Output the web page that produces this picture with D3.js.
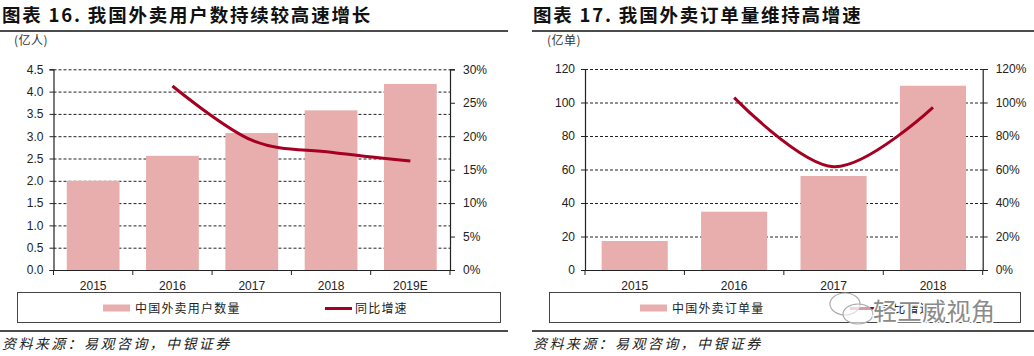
<!DOCTYPE html>
<html><head><meta charset="utf-8">
<script src="https://cdn.jsdelivr.net/npm/d3@7"></script>
<style>
body{margin:0;background:#fff;}
svg{display:block;}
text{font-family:"Liberation Sans",Arial,sans-serif;}
.cjk{font-family:"Noto Sans CJK SC","Noto Sans",sans-serif;}
</style></head><body>
<svg id="c" width="1034" height="356"></svg>
<script>
// ---- data ----
const years1 = ["2015","2016","2017","2018","2019E"];
const users = [2.0, 2.56, 3.07, 3.58, 4.17];          // 亿人
const userGrowth = [null, 27.5, 19.4, 17.6, 16.3];    // %
const leftTicks1 = [0,0.5,1,1.5,2,2.5,3,3.5,4,4.5];
const rightTicks1 = [0,5,10,15,20,25,30];

const years2 = ["2015","2016","2017","2018"];
const orders = [17.3, 34.8, 56.1, 110];               // 亿单
const orderGrowth = [null, 102.9, 61.7, 97.1];        // %
const leftTicks2 = [0,20,40,60,80,100,120];
const rightTicks2 = [0,20,40,60,80,100,120];

const BAR = "#E8ADAD", LINE = "#A50021", INK = "#222";
const svg = d3.select("#c");

function panel(o){
  const g = svg.append("g");
  // title
  g.append("text").attr("class","cjk").attr("x",o.tx).attr("y",22)
    .attr("font-size",18.5).attr("font-weight","bold").attr("letter-spacing",1.8).attr("fill","#111")
    .text(o.title);
  g.append("line").attr("x1",o.lx0).attr("x2",o.lx1).attr("y1",31).attr("y2",31).attr("stroke","#111").attr("stroke-width",1.5);
  g.append("line").attr("x1",o.lx0).attr("x2",o.lx1).attr("y1",331).attr("y2",331).attr("stroke","#111").attr("stroke-width",1.5);
  g.append("text").attr("class","cjk").attr("x",o.tx).attr("y",349).attr("font-size",14)
    .attr("font-style","italic").attr("letter-spacing",2.4).attr("fill","#222").text("资料来源：易观咨询，中银证券");
  // unit
  g.append("text").attr("class","cjk").attr("x",o.ux).attr("y",45).attr("font-size",12).attr("letter-spacing",0.5).attr("fill","#333").text(o.unit);

  const x = d3.scaleBand().domain(o.cats).range([o.x0,o.x1]).paddingInner(0.335).paddingOuter(0.1675);
  const y = d3.scaleLinear().domain([0,o.ymax]).range([270,o.yTop]);
  const y2 = d3.scaleLinear().domain([0,o.y2max]).range([270,o.yTop]);

  // gridlines
  g.append("g").selectAll("line").data(o.lt.filter(d=>d>0)).join("line")
    .attr("x1",o.x0).attr("x2",o.x1).attr("y1",d=>y(d)+0.5).attr("y2",d=>y(d)+0.5)
    .attr("stroke","#222").attr("stroke-width",1).attr("stroke-dasharray","3,2");
  // bars
  g.append("g").selectAll("rect").data(o.bars).join("rect")
    .attr("x",(d,i)=>x(o.cats[i])).attr("width",x.bandwidth())
    .attr("y",d=>y(d)).attr("height",d=>270-y(d)).attr("fill",BAR);
  // axes
  const ax = g.append("g").attr("transform",`translate(${o.x0},0)`)
    .call(d3.axisLeft(y).tickValues(o.lt).tickSize(4).tickPadding(6).tickFormat(o.lfmt));
  const ax2 = g.append("g").attr("transform",`translate(${o.x1},0)`)
    .call(d3.axisRight(y2).tickValues(o.rt).tickSize(5).tickPadding(8).tickFormat(d=>d+"%"));
  const axb = g.append("g").attr("transform",`translate(0,270)`)
    .call(d3.axisBottom(x).tickSize(0).tickPadding(11));
  // bottom ticks at boundaries
  const bounds = o.cats.map((c,i)=>o.x0 + i*x.step()).concat([o.x1]);
  g.append("g").selectAll("line").data(bounds).join("line")
    .attr("x1",d=>d).attr("x2",d=>d).attr("y1",270).attr("y2",275).attr("stroke","#222");
  [ax,ax2,axb].forEach(a=>{
    a.select(".domain").attr("stroke","#222").attr("stroke-width",1.2);
    a.selectAll(".tick line").attr("stroke","#222");
    a.selectAll("text").attr("font-size",12).attr("fill",INK).attr("font-family","Liberation Sans, Arial, sans-serif");
  });
  axb.select(".domain").attr("d",`M${o.x0},0.5H${o.x1}`);
  // line
  const pts = o.growth.map((v,i)=>[v,i]).filter(d=>d[0]!=null);
  g.append("path").datum(pts)
    .attr("d",d3.line().x(d=>x(o.cats[d[1]])+x.bandwidth()/2).y(d=>y2(d[0])).curve(d3.curveCatmullRom.alpha(0)))
    .attr("fill","none").attr("stroke",LINE).attr("stroke-width",3).attr("stroke-linecap","butt");

  // legend
  g.append("rect").attr("x",o.bx0+0.5).attr("y",292.5).attr("width",o.bx1-o.bx0).attr("height",30)
    .attr("fill","none").attr("stroke","#444").attr("stroke-width",1);
  g.append("rect").attr("x",o.s1).attr("y",304.5).attr("width",27).attr("height",7).attr("fill",BAR);
  g.append("text").attr("class","cjk").attr("x",o.s1+32).attr("y",313).attr("font-size",12).attr("letter-spacing",1.2).attr("fill","#222").text(o.leg1);
  g.append("line").attr("x1",o.s2).attr("x2",o.s2+27).attr("y1",308.5).attr("y2",308.5).attr("stroke",LINE).attr("stroke-width",3);
  g.append("text").attr("class","cjk").attr("x",o.s2+30).attr("y",313).attr("font-size",o.leg2size).attr("letter-spacing",1.2).attr("fill","#222").text("同比增速");
  return g;
}

panel({title:"图表 16. 我国外卖用户数持续较高速增长", tx:2, lx0:0, lx1:508, unit:"(亿人)", ux:14,
  cats:years1, bars:users, growth:userGrowth, x0:53.5, x1:450, yTop:69.3, ymax:4.5, y2max:30,
  lt:leftTicks1, rt:rightTicks1, lfmt:d3.format(".1f"), bx0:17, bx1:500, s1:103, s2:325, leg1:"中国外卖用户数量", leg2size:12});

panel({title:"图表 17. 我国外卖订单量维持高增速", tx:533, lx0:532, lx1:1034, unit:"(亿单)", ux:547,
  cats:years2, bars:orders, growth:orderGrowth, x0:585, x1:982.7, yTop:69, ymax:120, y2max:120,
  lt:leftTicks2, rt:rightTicks2, lfmt:d3.format("d"), bx0:549, bx1:1020, s1:640, s2:850, leg1:"中国外卖订单量", leg2size:12});

// watermark
const wm = svg.append("g");
wm.append("ellipse").attr("cx",845).attr("cy",304).attr("rx",15).attr("ry",11).attr("fill","rgba(255,255,255,0.6)").attr("stroke","#aaa").attr("stroke-width",1.2);
wm.append("ellipse").attr("cx",858).attr("cy",314).attr("rx",15).attr("ry",10).attr("fill","rgba(255,255,255,0.6)").attr("stroke","#aaa").attr("stroke-width",1.2);
wm.append("text").attr("class","cjk").attr("x",873).attr("y",320).attr("font-size",24).attr("letter-spacing",0.5)
  .attr("fill","#8a8a8a").attr("stroke","#fff").attr("stroke-width",3).attr("paint-order","stroke").text("轻工威视角");
</script>
</body></html>
